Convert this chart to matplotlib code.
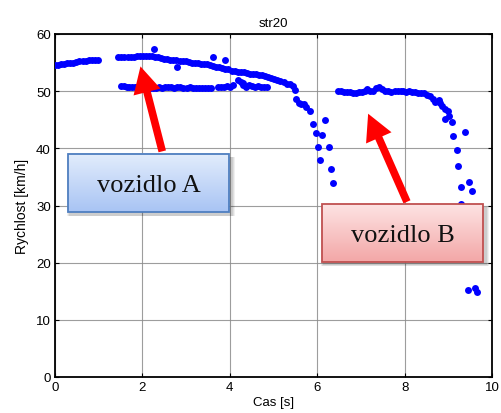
import numpy as np
import matplotlib
matplotlib.use("Agg")
import matplotlib.pyplot as plt
from matplotlib.patches import Rectangle, FancyArrowPatch

# --- measured speed samples (time [s], speed [km/h]) ---
a1_t = [0.00, 0.07, 0.14, 0.21, 0.28, 0.35, 0.42, 0.49, 0.56, 0.63, 0.70, 0.77, 0.84, 0.91, 0.98]
a1_v = [54.5, 54.6, 54.7, 54.8, 54.9, 55.0, 55.0, 55.1, 55.2, 55.2, 55.3, 55.4, 55.4, 55.5, 55.5]

a2_t = [1.45, 1.52, 1.59, 1.66, 1.73, 1.80, 1.87, 1.94, 2.01, 2.08, 2.15, 2.22, 2.29, 2.36,
        2.43, 2.50, 2.57, 2.64, 2.71, 2.78, 2.85, 2.92, 2.99, 3.06, 3.13, 3.20, 3.27, 3.34,
        3.41, 3.48, 3.55, 3.62, 3.69, 3.76, 3.83, 3.90, 3.97, 4.04, 4.11, 4.18, 4.25, 4.32,
        4.39, 4.46, 4.53, 4.60, 4.67, 4.74, 4.81, 4.88, 4.95, 5.02, 5.09, 5.16, 5.23, 5.30,
        5.37, 5.44, 5.50]
a2_v = [55.9, 55.9, 56.0, 56.0, 56.0, 56.0, 56.1, 56.1, 56.1, 56.1, 56.1, 56.1, 56.0, 56.0,
        55.8, 55.6, 55.7, 55.5, 55.4, 55.4, 55.3, 55.2, 55.2, 55.1, 55.0, 55.0, 54.9, 54.8,
        54.8, 54.7, 54.6, 54.4, 54.3, 54.2, 54.1, 53.9, 53.8, 53.6, 53.5, 53.4, 53.4, 53.3,
        53.2, 53.0, 53.0, 53.0, 52.9, 52.8, 52.7, 52.5, 52.3, 52.2, 52.0, 51.8, 51.6, 51.3,
        51.2, 50.9, 50.2]

a3_t = [1.52, 1.58, 1.64, 1.70, 1.76, 1.82, 1.88, 2.10, 2.17, 2.24, 2.31, 2.38, 2.45, 2.52,
        2.59, 2.66, 2.73, 2.80, 2.87, 2.94, 3.01, 3.08, 3.15, 3.22, 3.29, 3.36, 3.43, 3.50,
        3.57, 3.73, 3.80, 3.87, 3.94, 4.01, 4.08, 4.19, 4.26, 4.30, 4.37, 4.44, 4.51, 4.58,
        4.65, 4.72, 4.79, 4.85]
a3_v = [50.9, 50.9, 50.8, 50.8, 50.7, 50.8, 50.7, 50.5, 50.6, 50.5, 50.6, 50.7, 50.6, 50.8,
        50.7, 50.8, 50.6, 50.7, 50.7, 50.5, 50.6, 50.7, 50.5, 50.6, 50.5, 50.6, 50.5, 50.6,
        50.5, 50.7, 50.8, 50.7, 50.9, 50.8, 51.0, 51.9, 51.6, 51.0, 50.8, 51.1, 50.9, 50.8,
        50.9, 50.8, 50.8, 50.7]

a_out_t = [2.27, 2.80, 3.61, 3.89, 4.30]
a_out_v = [57.3, 54.2, 55.9, 55.4, 51.5]

a4_t = [5.51, 5.58, 5.63, 5.70, 5.74, 5.84, 5.91, 6.18, 5.97, 6.12, 6.01, 6.28, 6.07, 6.32, 6.37]
a4_v = [48.7, 48.0, 47.7, 47.8, 47.2, 46.6, 44.2, 45.0, 42.6, 42.4, 40.3, 40.3, 38.0, 36.4, 34.0]

b1_t = [6.48, 6.55, 6.62, 6.69, 6.76, 6.82, 6.89, 6.96, 7.03, 7.10, 7.14, 7.21, 7.28, 7.35,
        7.42, 7.49, 7.56, 7.63, 7.70, 7.77, 7.84, 7.91, 7.96, 8.03, 8.10, 8.17, 8.24, 8.31,
        8.38, 8.45, 8.52, 8.58]
b1_v = [50.0, 50.0, 49.9, 49.8, 49.8, 49.7, 49.7, 49.8, 49.9, 50.0, 50.3, 50.0, 50.1, 50.5,
        50.8, 50.4, 50.1, 50.0, 49.9, 50.0, 50.1, 50.0, 50.1, 49.9, 50.0, 49.9, 49.8, 49.7,
        49.7, 49.6, 49.4, 49.2]

b2_t = [8.65, 8.70, 8.78, 8.81, 8.85, 8.92, 8.99, 8.92, 9.02, 9.08, 9.11, 9.38, 9.19, 9.22,
        9.29, 9.47, 9.54, 9.29, 9.45, 9.61, 9.66]
b2_v = [48.6, 48.1, 48.4, 48.0, 47.4, 46.9, 46.5, 45.1, 45.6, 44.6, 42.1, 42.8, 39.7, 36.9,
        33.2, 34.1, 32.5, 30.2, 15.2, 15.5, 14.9]

x_ticks = [0, 2, 4, 6, 8, 10]
y_ticks = [0, 10, 20, 30, 40, 50, 60]

plt.rcParams['font.family'] = ['Liberation Sans', 'DejaVu Sans']

fig = plt.figure(figsize=(5.02, 4.14), dpi=100)
ax = fig.add_axes([55 / 502, 36 / 414, 437 / 502, 343 / 414])

t_all = a1_t + a2_t + a3_t + a_out_t + a4_t + b1_t + b2_t
v_all = a1_v + a2_v + a3_v + a_out_v + a4_v + b1_v + b2_v
ax.plot(t_all, v_all, 'o', color='#0000ff', markersize=5.0, markeredgewidth=0, zorder=3)

ax.set_xlim(0, 10)
ax.set_ylim(0, 60)
ax.set_xticks(x_ticks)
ax.set_yticks(y_ticks)
ax.tick_params(direction='in', top=True, right=True, length=3, width=0.8,
               labelsize=9.5, pad=3)
ax.grid(True, color='#8c8c8c', linewidth=0.8, linestyle='-', alpha=0.85)
ax.set_axisbelow(True)
for s in ax.spines.values():
    s.set_linewidth(1.3)

ax.set_title('str20', fontsize=9.5, pad=6)
ax.set_xlabel('Cas [s]', fontsize=9.5, labelpad=2)
ax.set_ylabel('Rychlost [km/h]', fontsize=10, labelpad=5)


def arrow(tail, tip):
    p = FancyArrowPatch(tail, tip, arrowstyle='simple,head_length=19,head_width=20,tail_width=5.5',
                        mutation_scale=1, color='#ff0000', lw=0, zorder=4)
    ax.add_patch(p)


def callout(x0, x1, y0, y1, top, bottom, edge, label):
    # soft drop shadow
    for k, a in enumerate([0.06, 0.07, 0.08]):
        d = 0.03 * (3 - k)
        ax.add_patch(Rectangle((x0 + 0.06 - d, y0 - 0.5 - 2 * d), x1 - x0 + 2 * d,
                               y1 - y0 + 2 * d, facecolor='#000000', alpha=a, lw=0, zorder=5))
    grad = np.linspace(0, 1, 64)[:, None]
    c_top = np.array(matplotlib.colors.to_rgb(top))
    c_bot = np.array(matplotlib.colors.to_rgb(bottom))
    img = c_top[None, None, :] * (1 - grad[..., None]) + c_bot[None, None, :] * grad[..., None]
    ax.imshow(img, extent=(x0, x1, y0, y1), origin='upper', aspect='auto', zorder=6,
              interpolation='bilinear')
    ax.add_patch(Rectangle((x0, y0), x1 - x0, y1 - y0, facecolor='none', edgecolor=edge,
                           lw=1.3, zorder=7))
    ax.text((x0 + x1) / 2, (y0 + y1) / 2 - 0.3, label, ha='center', va='center',
            fontsize=19, family=['Liberation Serif', 'DejaVu Serif'], color='#111111', zorder=8)


arrow((2.47, 39.0), (1.94, 54.8))
arrow((8.08, 30.2), (7.14, 46.5))
callout(0.30, 3.98, 28.8, 39.0, '#e3edfc', '#a8c4f4', '#4f7fc0', 'vozidlo A')
callout(6.11, 9.79, 20.1, 30.2, '#fde3e3', '#f3a7a7', '#c05050', 'vozidlo B')

ax.set_xlim(0, 10)
ax.set_ylim(0, 60)

fig.savefig('out.png', dpi=100)
